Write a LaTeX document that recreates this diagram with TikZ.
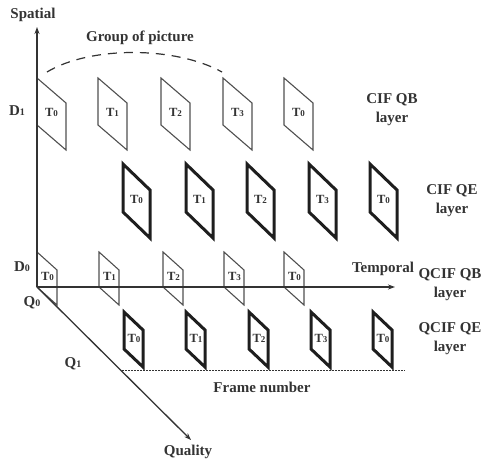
\documentclass[tikz,border=0pt]{standalone}
\usepackage{fontspec}
\setmainfont{Liberation Serif}
\usetikzlibrary{arrows.meta}
\definecolor{ink}{HTML}{333333}
\definecolor{thinc}{HTML}{505050}
\definecolor{thickc}{HTML}{1e1e1e}
\newcommand\subdig[1]{{\fontsize{9}{9}\selectfont #1}}
\newcommand\lsub[1]{{\fontsize{10}{10}\selectfont #1}}
\begin{document}
\begin{tikzpicture}[x=1pt,y=-1pt,
  lbl/.style={font=\bfseries\fontsize{15}{19}\selectfont, text=ink, inner sep=0pt, align=center},
  tl/.style={font=\bfseries\fontsize{12.5}{13}\selectfont, text=ink, inner sep=0pt},
  thinf/.style={draw=thinc, line width=1.1pt, line join=miter},
  thickf/.style={draw=thickc, line width=3pt, line join=miter},
  axis/.style={draw=ink, line width=1.3pt, -{Stealth[length=7pt,width=5pt]}}]
\useasboundingbox (0,0) rectangle (483,463);

% CIF QB layer (thin)
\foreach \i/\x/\t in {0/37/0,1/98/1,2/161/2,3/223/3,4/284/0} {
  \draw[thinf] (\x,78) -- (\x+29,103) -- (\x+29,150) -- (\x,125) -- cycle;
  \node[tl] (cqb\i) at (\x+14.5,112) {T\subdig{\t}};
}
% CIF QE layer (thick)
\foreach \i/\x/\t in {0/123/0,1/186/1,2/247/2,3/309/3,4/370/0} {
  \draw[thickf] (\x,164) -- (\x+27,190) -- (\x+27,238) -- (\x,212) -- cycle;
  \node[tl] (cqe\i) at (\x+13.5,199) {T\subdig{\t}};
}
% QCIF QB layer (thin)
\foreach \i/\x/\t in {0/37/0,1/99/1,2/163/2,3/224/3,4/284/0} {
  \draw[thinf] (\x,252) -- (\x+20,270) -- (\x+20,305) -- (\x,287) -- cycle;
  \node[tl] (qqb\i) at (\x+10.5,276) {T\subdig{\t}};
}
% QCIF QE layer (thick)
\foreach \i/\x/\t in {0/124/0,1/186/1,2/249/2,3/311/3,4/373/0} {
  \draw[thickf] (\x,312) -- (\x+19,330) -- (\x+19,367) -- (\x,349) -- cycle;
  \node[tl] (qqe\i) at (\x+10,338) {T\subdig{\t}};
}

% axes
\coordinate (O) at (37,287);
\coordinate (S) at (37,27);
\coordinate (T) at (395,287);
\coordinate (Q) at (191,440);
\draw[axis] (O) -- (S);
\draw[axis] (O) -- (T);
\draw[axis] (O) -- (Q);

% group of picture arc
\coordinate (g1) at (47,72);
\coordinate (g2) at (222,72);
\draw[ink, line width=1.2pt, dash pattern=on 9pt off 7pt] (g1) .. controls (90,46) and (175,46) .. (g2);

% frame number line
\coordinate (f1) at (122,370);
\coordinate (f2) at (405,370);
\draw[ink, line width=0.8pt, dash pattern=on 1.6pt off 1.4pt] (f1) -- (f2);

% labels
\node[lbl] (spatial) at (33,15) {Spatial};
\node[lbl] (gop) at (140,38) {Group of picture};
\node[lbl] (d1) at (17,111) {D\lsub{1}};
\node[lbl] (d0) at (22,267) {D\lsub{0}};
\node[lbl] (q0) at (32,303) {Q\lsub{0}};
\node[lbl] (q1) at (73,364) {Q\lsub{1}};
\node[lbl] (cifqb) at (392,110) {CIF QB\\layer};
\node[lbl] (cifqe) at (452,201) {CIF QE\\layer};
\node[lbl] (temporal) at (383,269) {Temporal};
\node[lbl] (qcifqb) at (450,285) {QCIF QB\\layer};
\node[lbl] (qcifqe) at (450,339) {QCIF QE\\layer};
\node[lbl] (frame) at (262,387) {Frame number};
\node[lbl] (quality) at (188,452) {Quality};
\end{tikzpicture}
\end{document}
